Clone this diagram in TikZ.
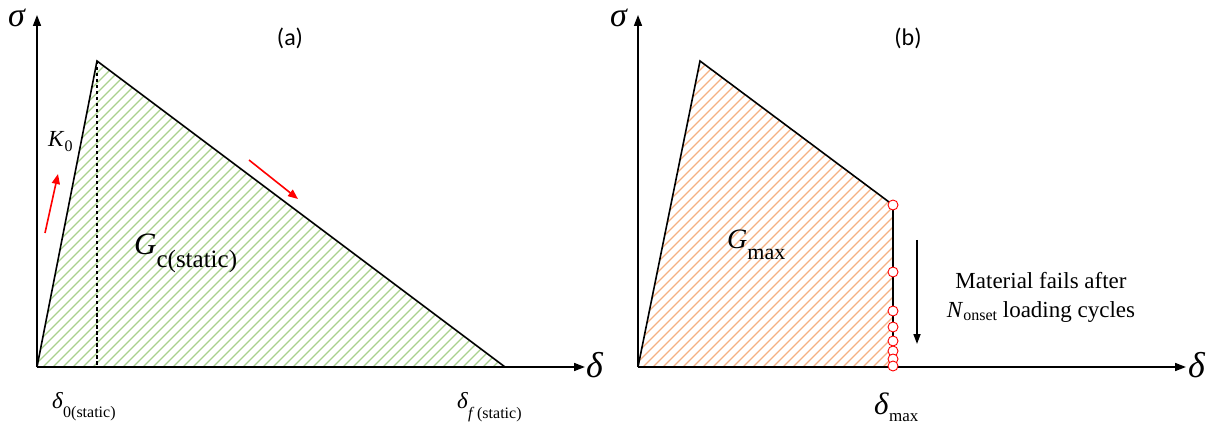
\documentclass[tikz,border=0pt]{standalone}
\usepackage{fontspec}
\setmainfont{Liberation Serif}
\newfontfamily\panelfont{Carlito}
\usetikzlibrary{arrows.meta,positioning}
\definecolor{hatchGreen} {HTML}{A9D18E}
\definecolor{hatchOrange}{HTML}{F4B183}
\definecolor{failRed}    {HTML}{FF0000}
\newcommand{\fsz}[1]{\fontsize{#1}{1.25\dimexpr#1pt\relax}\selectfont}
% main symbol, subscript, main size, sub size, drop
\newcommand{\sublbl}[5]{\fsz{#3}\textit{#1}\raisebox{-#5pt}{\fsz{#4}#2}}

\begin{document}
\begin{tikzpicture}[x=1pt,y=-1pt,
    axisline/.style={line width=1.6pt,-{Triangle[length=11pt,width=8pt]}},
    curveline/.style={line width=1.6pt,line join=miter},
    hatchline/.style={line width=1.2pt},
    redarrow/.style={failRed,line width=1.6pt,-{Triangle[length=10pt,width=8pt]}},
    cyclemark/.style={circle,draw=failRed,fill=white,line width=0.9pt,inner sep=0pt,minimum size=10pt},
    lbl/.style={inner sep=0pt,anchor=base west},
    tag/.style={font=\panelfont},
    note/.style={inner sep=0pt,anchor=base,font=\fsz{23}}]
  \useasboundingbox (0,0) rectangle (1214,427);

  % ---- (a) static
  \coordinate (Oa) at (37,367);
  \coordinate (Pa) at (97,61);
  \coordinate (Fa) at (505,367);
  \begin{scope}
    \clip (Oa) -- (Pa) -- (Fa) -- cycle;
    \foreach \i in {-400,-390,...,600}
      \draw[hatchGreen,hatchline] (\i,380) -- ++(340,-340);
  \end{scope}
  \draw[line width=1.5pt,dash pattern=on 3.5pt off 2.5pt] (Pa) -- (97,367);
  \draw[curveline] (Oa) -- (Pa) -- (Fa);
  \draw[axisline] (Oa) -- (37,15) coordinate (Ya);
  \draw[axisline] (Oa) -- (585,367) coordinate (Xa);
  \node[lbl] (siga) at (8,27) {\fsz{34}\textit{σ}};
  \node[lbl] (dela) at (586,377) {\fsz{36}\textit{δ}};
  \node[lbl] (k0) at (48,147) {\sublbl{K}{0}{23}{16}{5}};
  \node[lbl] (gc) at (134,255) {\sublbl{G}{c(static)}{31}{25}{13}};
  \node[lbl] (d0) at (52,408) {\sublbl{δ}{0(static)}{23}{16}{9}};
  \node[lbl] (df) at (457,408) {\sublbl{δ}{\textit{f}\,(static)}{23}{16}{10}};
  \node[tag] (tagA) at (290,38) {\fsz{24}(a)};
  \draw[redarrow] (45,233) -- (58,174);
  \draw[redarrow] (249,160) -- (298,199);

  % ---- (b) fatigue
  \coordinate (Ob) at (638,367);
  \coordinate (Pb) at (700,61);
  \coordinate (Db) at (893,205);
  \coordinate (Mb) at (893,367);
  \begin{scope}
    \clip (Ob) -- (Pb) -- (Db) -- (Mb) -- cycle;
    \foreach \i in {200,210,...,1000}
      \draw[hatchOrange,hatchline] (\i,380) -- ++(340,-340);
  \end{scope}
  \draw[curveline] (Ob) -- (Pb) -- (Db) -- (Mb);
  \draw[axisline] (Ob) -- (638,15) coordinate (Yb);
  \draw[axisline] (Ob) -- (1186,367) coordinate (Xb);
  \node[lbl] (sigb) at (610,27) {\fsz{34}\textit{σ}};
  \node[lbl] (delb) at (1188,377) {\fsz{36}\textit{δ}};
  \node[lbl] (gmax) at (727,249) {\sublbl{G}{max}{28}{22}{11}};
  \node[lbl] (dmax) at (874,414) {\sublbl{δ}{max}{31}{17}{7}};
  \node[tag] (tagB) at (908,38) {\fsz{24}(b)};
  \foreach \y [count=\k] in {205,272,311,327,341,351,359,366}
    \node[cyclemark] (c\k) at (893,\y) {};
  \coordinate (fs) at (917,240);
  \coordinate (fe) at (917,344);
  \draw[line width=1.6pt,-{Triangle[length=10pt,width=7pt]}] (fs) -- (fe);
  \node[note] (fail1) at (1041,288) {Material fails after};
  \node[note] (fail2) at (1041,317) {\textit{N}\raisebox{-3pt}{\fsz{16}onset} loading cycles};
\end{tikzpicture}
\end{document}
